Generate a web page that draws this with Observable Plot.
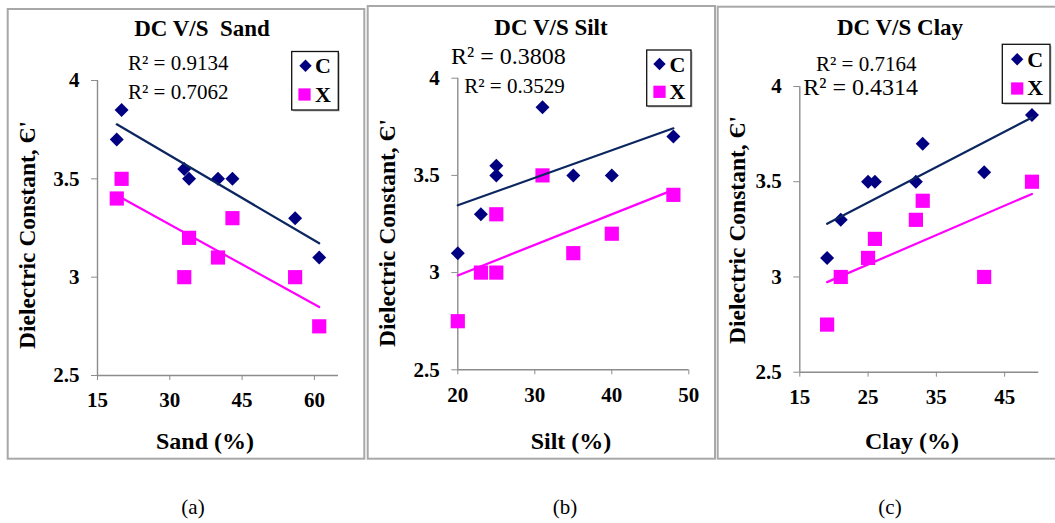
<!DOCTYPE html>
<html>
<head>
<meta charset="utf-8">
<script src="https://cdn.jsdelivr.net/npm/d3@7"></script>
<script src="https://cdn.jsdelivr.net/npm/@observablehq/plot@0.6"></script>
<style>
  body { margin: 0; background: #fff; }
  #fig { position: relative; width: 1055px; height: 523px; overflow: hidden; background: #fff;
         font-family: "Liberation Serif", "Times New Roman", serif; }
  #fig svg.panel { position: absolute; top: 0; }
  #fig svg.panel g[aria-label="x-axis tick"],
  #fig svg.panel g[aria-label="y-axis tick"] { stroke: #8c8c8c; }
  #overlay { position: absolute; left: 0; top: 0; pointer-events: none; }
  #overlay text { font-family: "Liberation Serif", "Times New Roman", serif; fill: #000; white-space: pre; }
</style>
</head>
<body>
<div id="fig"></div>
<script>
// Dielectric constant of the soil samples against texture fractions, two bands (C and X)
const sandPct = [19, 20, 33, 34, 40, 43, 56, 61];
const sandC   = [3.7, 3.85, 3.55, 3.5, 3.5, 3.5, 3.3, 3.1];
const sandX   = [3.4, 3.5, 3.0, 3.2, 3.1, 3.3, 3.0, 2.75];

const siltPct = [20, 23, 25, 25, 31, 35, 40, 48];
const siltC   = [3.1, 3.3, 3.55, 3.5, 3.85, 3.5, 3.5, 3.7];
const siltX   = [2.75, 3.0, 3.3, 3.0, 3.5, 3.1, 3.2, 3.4];

const clayPct = [19, 21, 25, 26, 32, 33, 42, 49];
const clayC   = [3.1, 3.3, 3.5, 3.5, 3.5, 3.7, 3.55, 3.85];
const clayX   = [2.75, 3.0, 3.1, 3.2, 3.3, 3.4, 3.0, 3.5];

const seriesNames = ["C", "X"];
const dcTicks    = [2.5, 3, 3.5, 4];
const sandTicks  = [15, 30, 45, 60];
const siltTicks  = [20, 30, 40, 50];
const clayTicks  = [15, 25, 35, 45];

const panelTitles = ["DC V/S  Sand", "DC V/S Silt", "DC V/S Clay"];
const xTitles     = ["Sand (%)", "Silt (%)", "Clay (%)"];
const yTitle      = "Dielectric Constant, Є'";
const r2Labels    = [["R² = 0.9134", "R² = 0.7062"],
                     ["R² = 0.3808", "R² = 0.3529"],
                     ["R² = 0.7164", "R² = 0.4314"]];
const captions    = ["(a)", "(b)", "(c)"];

// styling
const colorC = "#000080", lineC = "#0b2660";
const colorX = "#ff00ff", lineX = "#ff00ff";
const axisGray = "#8c8c8c";
const serif = "'Liberation Serif', 'Times New Roman', serif";

// panel geometry (page pixels)
const panels = [
  { pct: sandPct, c: sandC, x: sandX, ticks: sandTicks, domain: [15, 65],
    left: 0, width: 365, height: 460, ml: 97, mr: 27, mt: 80, mb: 85,
    border: [7.7, 9, 364.3, 458.7],
    title: [202, 35.5], xTitle: [205, 449], yTitle: [35, 235],
    r2: [[128, 70, 21], [128, 99, 21]],
    legend: { box: [291.7, 51.5, 338.3, 110], dia: [305.5, 65.8], sq: [304.5, 94.5], tx: 315, cBase: 73.3, xBase: 101.7 },
    caption: 193 },
  { pct: siltPct, c: siltC, x: siltX, ticks: siltTicks, domain: [20, 50],
    left: 365, width: 350, height: 460, ml: 92.3, mr: 26.7, mt: 77.7, mb: 90.7,
    border: [367.7, 6, 715, 458.7],
    title: [551, 35], xTitle: [571, 449], yTitle: [395, 233],
    r2: [[451, 64, 24], [464.3, 93.3, 21]],
    legend: { box: [646.7, 50, 691, 106], dia: [659.5, 64], sq: [659.5, 91.8], tx: 669.5, cBase: 71.7, xBase: 99.3 },
    caption: 565 },
  { pct: clayPct, c: clayC, x: clayX, ticks: clayTicks, domain: [15, 50],
    left: 715, width: 340, height: 460, ml: 84.3, mr: 16.7, mt: 86, mb: 88.3,
    border: [717.7, 6.7, 1062, 458.7],
    title: [900, 35], xTitle: [912, 449], yTitle: [745, 230],
    r2: [[816, 70.7, 21], [803.3, 95, 24]],
    legend: { box: [1002.3, 44.3, 1050, 103.3], dia: [1017.2, 59.2], sq: [1017.2, 88.5], tx: 1027.3, cBase: 66.7, xBase: 95 },
    caption: 890 }
];

const fig = document.getElementById("fig");
const fmt = d => String(d);

panels.forEach(p => {
  const rowsC = p.pct.map((v, i) => ({ pct: v, dc: p.c[i], band: seriesNames[0] }));
  const rowsX = p.pct.map((v, i) => ({ pct: v, dc: p.x[i], band: seriesNames[1] }));
  const chart = Plot.plot({
    width: p.width, height: p.height,
    marginLeft: p.ml, marginRight: p.mr, marginTop: p.mt, marginBottom: p.mb,
    x: { domain: p.domain },
    y: { domain: [2.5, 4] },
    style: { fontFamily: serif, fontSize: "21px", color: "#000", background: "transparent", overflow: "visible" },
    marks: [
      Plot.axisX(p.ticks, { tickFormat: fmt, tickSize: 5, tickPadding: 12, label: null,
                            fontSize: 21, fontWeight: "bold", fontFamily: serif }),
      Plot.axisY(dcTicks, { tickFormat: fmt, tickSize: 6, tickPadding: 12, label: null,
                            fontSize: 21, fontWeight: "bold", fontFamily: serif }),
      Plot.ruleX([p.domain[0]], { stroke: axisGray, strokeWidth: 1.4 }),
      Plot.ruleY([dcTicks[0]], { stroke: axisGray, strokeWidth: 1.4 }),
      Plot.dot(rowsC, { x: "pct", y: "dc", symbol: "diamond2", r: 6.3, fill: colorC }),
      Plot.dot(rowsX, { x: "pct", y: "dc", symbol: "square", r: 8, fill: colorX }),
      Plot.linearRegressionY(rowsC, { x: "pct", y: "dc", stroke: lineC, strokeWidth: 2.2, ci: 0 }),
      Plot.linearRegressionY(rowsX, { x: "pct", y: "dc", stroke: lineX, strokeWidth: 2.2, ci: 0 })
    ]
  });
  chart.classList.add("panel");
  chart.style.position = "absolute";
  chart.style.left = p.left + "px";
  chart.style.top = "0px";
  fig.appendChild(chart);
});

// titles, legends, captions and frames
const ov = d3.select(fig).append("svg")
  .attr("id", "overlay").attr("width", 1055).attr("height", 523);

panels.forEach((p, k) => {
  const [bx0, by0, bx1, by1] = p.border;
  ov.append("rect").attr("x", bx0).attr("y", by0)
    .attr("width", bx1 - bx0).attr("height", by1 - by0)
    .attr("fill", "none").attr("stroke", "#a8a8a8").attr("stroke-width", 2);

  ov.append("text").attr("x", p.title[0]).attr("y", p.title[1])
    .attr("text-anchor", "middle").attr("font-size", 23).attr("font-weight", "bold")
    .text(panelTitles[k]);

  ov.append("text").attr("x", p.xTitle[0]).attr("y", p.xTitle[1])
    .attr("text-anchor", "middle").attr("font-size", 24).attr("font-weight", "bold")
    .text(xTitles[k]);

  ov.append("text")
    .attr("transform", `translate(${p.yTitle[0]},${p.yTitle[1]}) rotate(-90)`)
    .attr("text-anchor", "middle").attr("font-size", 23.5).attr("font-weight", "bold")
    .text(yTitle);

  p.r2.forEach(([x, y, fs], j) => {
    ov.append("text").attr("x", x).attr("y", y).attr("font-size", fs).text(r2Labels[k][j]);
  });

  const L = p.legend;
  ov.append("rect").attr("x", L.box[0] + 1.5).attr("y", L.box[1] + 1.5)
    .attr("width", L.box[2] - L.box[0]).attr("height", L.box[3] - L.box[1])
    .attr("fill", "#bdbdbd");
  ov.append("rect").attr("x", L.box[0]).attr("y", L.box[1])
    .attr("width", L.box[2] - L.box[0]).attr("height", L.box[3] - L.box[1])
    .attr("fill", "#fff").attr("stroke", "#111").attr("stroke-width", 1.3);
  ov.append("path").attr("transform", `translate(${L.dia[0]},${L.dia[1]})`)
    .attr("d", d3.symbol(d3.symbolDiamond2, 98)()).attr("fill", colorC);
  ov.append("path").attr("transform", `translate(${L.sq[0]},${L.sq[1]})`)
    .attr("d", d3.symbol(d3.symbolSquare, 150)()).attr("fill", colorX);
  ov.append("text").attr("x", L.tx).attr("y", L.cBase).attr("font-size", 22)
    .attr("font-weight", "bold").text(seriesNames[0]);
  ov.append("text").attr("x", L.tx).attr("y", L.xBase).attr("font-size", 22)
    .attr("font-weight", "bold").text(seriesNames[1]);

  ov.append("text").attr("x", p.caption).attr("y", 514)
    .attr("text-anchor", "middle").attr("font-size", 21).text(captions[k]);
});
</script>
</body>
</html>
